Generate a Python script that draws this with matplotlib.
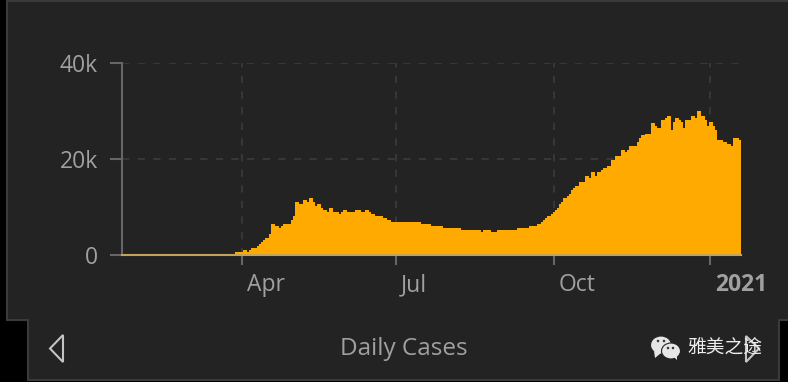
import matplotlib
matplotlib.use("Agg")
import matplotlib.pyplot as plt
from matplotlib.patches import Polygon, Ellipse
from matplotlib.transforms import ScaledTranslation

W, H = 788, 382

# daily cases in thousands, one value per drawn column
winter_values = [0, 0, 0, 0, 0, 0, 0, 0, 0, 0, 0, 0, 0, 0, 0, 0, 0, 0, 0, 0,
                 0, 0, 0, 0, 0, 0, 0, 0, 0, 0, 0, 0, 0, 0, 0, 0, 0, 0, 0, 0,
                 0, 0, 0, 0, 0, 0, 0, 0, 0, 0, 0, 0, 0, 0, 0, 0]
spring_values = [0.6, 0.6, 0.6, 0.6, 1.0, 1.0, 0.6, 1.1, 1.5, 1.5, 1.5, 1.9, 2.3, 2.7, 3.1, 3.5,
                 3.5, 4.4, 6.5, 6.5, 6.0, 6.0, 5.6, 6.0, 6.5, 6.5, 6.5, 6.5, 7.3, 8.1, 11.0, 11.0,
                 10.6, 10.6, 11.5, 11.5, 11.0, 11.9, 11.9, 11.0, 10.2, 10.6, 10.6, 9.8, 9.4, 9.4]
summer_values = [9.0, 9.8, 9.8, 9.0, 9.0, 9.0, 8.5, 9.0, 9.4, 9.4, 9.0, 9.0, 9.0, 9.0, 9.4, 9.4,
                 9.4, 9.0, 9.0, 9.4, 9.4, 9.0, 8.5, 8.5, 8.1, 8.1, 8.1, 8.1, 7.7, 7.7, 7.3, 7.3,
                 6.9, 6.9, 6.9, 6.9, 6.9, 6.9, 6.9, 6.9, 6.9, 6.9, 6.9, 6.9, 6.9, 6.9, 6.9,
                 6.4, 6.4, 6.4, 6.4, 6.4]
autumn_values = [6.0, 6.0, 6.0, 6.0, 6.0, 6.0, 5.6, 5.6, 5.6, 5.6, 5.6, 5.6, 5.6, 5.6, 5.6,
                 5.2, 5.2, 5.2, 5.2, 5.2, 5.2, 5.2, 5.2, 5.2, 5.2, 4.8, 5.2, 5.2, 5.2, 5.2,
                 4.8, 4.8, 4.8, 5.2, 5.2, 5.2, 5.2, 5.2, 5.2, 5.2, 5.2, 5.2, 5.2,
                 5.6, 5.6, 5.6, 5.6, 5.6, 5.6, 6.0, 6.0, 6.0, 6.0, 6.4, 6.4,
                 6.9, 7.3, 7.7, 8.1, 8.1, 8.5, 9.0, 9.4, 9.8, 10.6, 11.0, 11.9, 11.9, 12.3, 12.7,
                 13.5, 14.0, 14.4, 14.4, 15.2, 15.2, 15.2, 16.5, 16.5, 16.0, 17.3, 17.3, 16.5,
                 17.3, 17.3, 17.7, 18.1, 18.1, 18.5, 18.5, 19.8, 19.8, 20.6, 20.6, 20.6,
                 21.9, 21.9, 21.5, 21.9, 22.7, 22.7, 22.7]
peak_values = [22.8, 23.6, 24.4, 24.9, 24.9, 25.3, 25.3, 25.3, 27.4, 27.4, 26.9, 26.5, 26.5,
               28.2, 28.2, 28.6, 29.0, 29.0, 26.1, 27.8, 28.6, 28.6, 28.2, 27.8, 26.5,
               28.2, 28.2, 28.2, 29.0, 29.0, 28.6, 29.9, 29.9, 29.0, 29.0, 28.2, 26.9,
               27.8, 27.8, 26.9, 26.1, 24.0, 24.0, 24.0, 23.6, 23.6, 23.2, 23.2, 22.8,
               24.4, 24.4, 24.4, 24.0]
cases = winter_values + spring_values + summer_values + autumn_values + peak_values

month_ticks = [59.7, 136.5, 215.5, 293.5]
month_labels = ["Apr", "Jul", "Oct", "2021"]
y_ticks = [0, 20, 40]
y_labels = ["0", "20k", "40k"]


# reference measured in pixels from the top left
def fp(x, y):
    return (x / W, 1 - y / H)


fig = plt.figure(figsize=(W / 100, H / 100), dpi=100, facecolor="black")

panel = [(7, 1), (792, 1), (792, 320), (779, 320), (779, 380), (28, 380), (28, 320), (7, 320)]
fig.add_artist(Polygon([fp(*p) for p in panel], closed=True, transform=fig.transFigure,
                       facecolor="#232323", edgecolor="#3a3a3a", linewidth=1.5, zorder=-1))

ax = fig.add_axes([122 / W, 1 - 255 / H, (741 - 122) / W, (255 - 63) / H])
ax.patch.set_alpha(0)
ax.bar(range(len(cases)), cases, width=1.0, align="edge", color="#ffaa00", linewidth=0, zorder=2)
ax.axhline(0, color="#c4a25a", linewidth=1.5, zorder=3, clip_on=False)
ax.set_xlim(-0.5, len(cases))
ax.set_ylim(0, 40)

for side in ["top", "right", "bottom"]:
    ax.spines[side].set_visible(False)
ax.spines["left"].set_color("#666666")
ax.spines["left"].set_linewidth(1.5)

ax.set_yticks(y_ticks)
ax.set_yticklabels(y_labels, fontfamily="Open Sans", fontsize=16.5, color="#a0a0a0")
ax.tick_params(axis="y", length=8.5, width=1.5, color="#666666", pad=9)
ax.set_xticks(month_ticks)
ax.set_xticklabels(month_labels, fontfamily="Open Sans", fontsize=16.5, color="#a0a0a0", ha="left")
ax.tick_params(axis="x", length=7, width=1.5, color="#666666", pad=6)
for lab in ax.get_xticklabels():
    lab.set_transform(lab.get_transform() + ScaledTranslation(5 / 100, 0, fig.dpi_scale_trans))
ax.get_xticklabels()[-1].set_fontweight("bold")

ax.grid(True, color="#373737", linewidth=1.5, linestyle=(0, (3.5, 4)), zorder=1)
ax.set_axisbelow(True)

fig.text(*fp(404, 349), "Daily Cases", fontfamily="Open Sans", fontsize=17.5, color="#a0a0a0",
         ha="center", va="center")

# pager arrows
for tri in ([(63, 335), (50, 348.5), (63, 362)], [(746, 336), (759, 348.5), (746, 362)]):
    fig.add_artist(Polygon([fp(*p) for p in tri], closed=True, transform=fig.transFigure,
                           facecolor="none", edgecolor="#c4c4c4", linewidth=1.5))

# wechat watermark
for cx, cy, w, h in [(661, 345, 21, 18), (671, 351, 19, 16)]:
    fig.add_artist(Ellipse(fp(cx, cy), w / W, h / H, transform=fig.transFigure,
                           facecolor="#e6e6e6", edgecolor="#232323", linewidth=0.8))
fig.add_artist(Polygon([fp(*p) for p in [(654, 351), (655, 358), (661, 353)]], closed=True,
                       transform=fig.transFigure, facecolor="#e6e6e6", edgecolor="none"))
fig.add_artist(Polygon([fp(*p) for p in [(674, 357), (677, 360), (677, 356)]], closed=True,
                       transform=fig.transFigure, facecolor="#e6e6e6", edgecolor="none"))
for ex, ey in [(658, 341), (664, 341), (668, 348), (673, 348)]:
    fig.add_artist(Ellipse(fp(ex, ey), 2.5 / W, 2.5 / H, transform=fig.transFigure,
                           facecolor="#333333", edgecolor="none"))
fig.text(*fp(724.5, 348), "雅美之途", fontfamily=["Noto Sans CJK SC", "DejaVu Sans"], fontsize=13.5,
         color="#eeeeee", ha="center", va="center")

fig.savefig("out.png", dpi=100, facecolor=fig.get_facecolor())
